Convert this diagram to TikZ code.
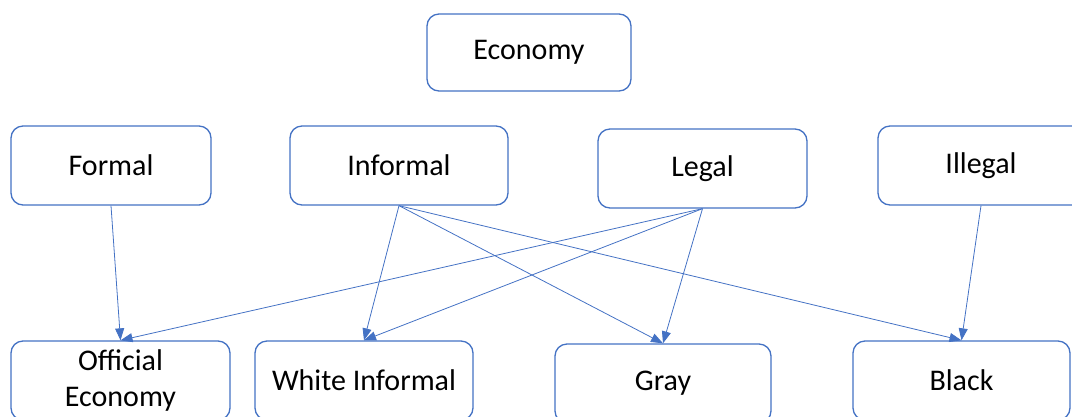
\documentclass[tikz,border=0pt]{standalone}
\usepackage{fontspec}
\setmainfont{Carlito}
\usetikzlibrary{arrows.meta}
\definecolor{edge}{HTML}{4472C4}
\begin{document}
\begin{tikzpicture}[x=1pt,y=-1pt,
  box/.style={draw=edge,line width=1.3pt,rounded corners=12pt,fill=white,
    inner sep=0pt,align=center,font=\fontsize{30}{36}\selectfont},
  link/.style={draw=edge,line width=0.8pt,-{Triangle[length=12pt,width=9pt]}}]
\useasboundingbox (0,0) rectangle (1072,416);
\node[box,minimum width=204pt,minimum height=77pt] (eco) at (529,52.5) {Economy};
\node[box,minimum width=200pt,minimum height=79pt] (formal) at (111,165.5) {Formal};
\node[box,minimum width=218pt,minimum height=79pt] (informal) at (399,165.5) {Informal};
\node[box,minimum width=209pt,minimum height=79pt] (legal) at (702.5,168.5) {Legal};
\node[box,minimum width=206pt,minimum height=79pt] (illegal) at (981,165.5) {Illegal};
\node[box,minimum width=219pt,minimum height=79pt] (official) at (120.5,380.5) {Official\\Economy};
\node[box,minimum width=218pt,minimum height=79pt] (white) at (364,380.5) {White Informal};
\node[box,minimum width=216pt,minimum height=79pt] (gray) at (663,383.5) {Gray};
\node[box,minimum width=217pt,minimum height=79pt] (black) at (961.5,380.5) {Black};
\draw[link] (formal.south) -- (official.north);
\draw[link] (informal.south) -- (white.north);
\draw[link] (informal.south) -- (gray.north);
\draw[link] (informal.south) -- (black.north);
\draw[link] (legal.south) -- (official.north);
\draw[link] (legal.south) -- (white.north);
\draw[link] (legal.south) -- (gray.north);
\draw[link] (illegal.south) -- (black.north);
\end{tikzpicture}
\end{document}
